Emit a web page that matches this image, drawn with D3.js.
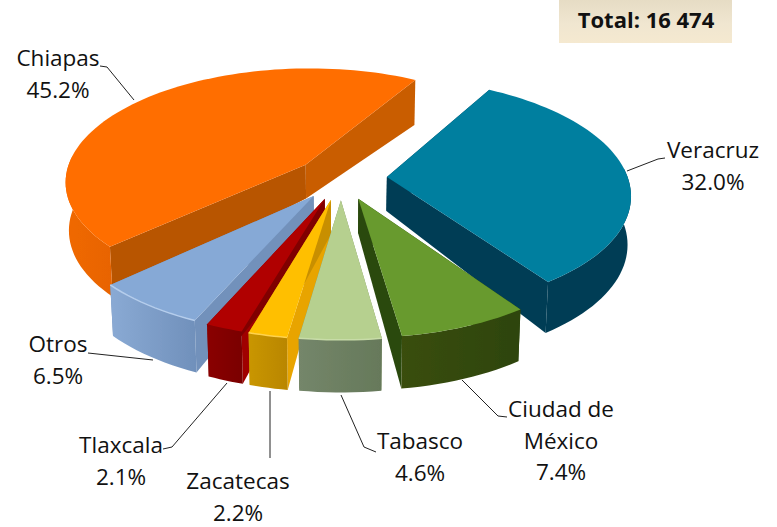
<!DOCTYPE html>
<html><head><meta charset="utf-8">
<script src="https://cdn.jsdelivr.net/npm/d3@7"></script>
<style>html,body{margin:0;padding:0;background:#fff}svg{display:block}text{font-family:"Open Sans",sans-serif;fill:#111}</style>
</head><body><script>
// ---- data ----
const categories = ["Veracruz","Ciudad de México","Tabasco","Zacatecas","Tlaxcala","Otros","Chiapas"];
const shares = [32.0,7.4,4.6,2.2,2.1,6.5,45.2];
const totalLabel = "Total: 16 474";
const labelLines = [["Veracruz","32.0%"],["Ciudad de","México","7.4%"],["Tabasco","4.6%"],["Zacatecas","2.2%"],["Tlaxcala","2.1%"],["Otros","6.5%"],["Chiapas","45.2%"]];
// ---- styles and layout ----
const topColors   = ["#007f9f","#679a2d","#b6d08f","#ffbf00","#b00000","#86a9d6","#ff6e00"];
const startWalls  = ["#003d55","#2c4a10","#7a8f60","#e8a400","#a00000","#7291bb","#b85400"];
const endWalls    = ["#003d55","#2c4a10","#7a8f60","#c88f00","#800000","#7291bb","#c95d00"];
const outerStops  = [["#003d55","#003d55"],["#3a4e10","#2d4409"],["#74866a","#66795a"],["#c99600","#b98600"],["#8a0000","#7a0000"],["#8aaad4","#7090bb"],["#f06800","#e86400"]];
const rimColors   = [null,null,"#c8dca8","#ffd24d",null,"#b5cdec",null];
const drawOrder = [6,0,5,4,3,1,2];
const labelAnchors = [[713,158],[561,417],[420,449],[238,489],[121,453],[58,352],[58,66]];
const leaders = [
 [[665,158],[658,159],[627,171]],
 [[507,417],[498,416],[462,380]],
 [[376,452],[364,447],[341,395]],
 [[270,458],[270,391]],
 [[163,449],[172,447],[227,383]],
 [[88,353],[153,360]],
 [[100,66],[107,67],[134,100]]];
const W=777,H=527;
const cx=341,cy=178,R=241,E=46,persp=0.14,tilt=0.47;
const startDeg=30;

const svg=d3.select("body").append("svg").attr("width",W).attr("height",H);
const defs=svg.append("defs");
defs.append("filter").attr("id","soft").append("feGaussianBlur").attr("stdDeviation",0.5);
const boxG=defs.append("linearGradient").attr("id","box").attr("x1",0).attr("x2",0).attr("y1",0).attr("y2",1);
boxG.append("stop").attr("offset",0).attr("stop-color","#e6dcc4");
boxG.append("stop").attr("offset",0.55).attr("stop-color","#f0e6d0");
boxG.append("stop").attr("offset",1).attr("stop-color","#f5e9d0");

const rad=Math.PI/180;
const pie=d3.pie().sort(null).startAngle(startDeg*rad).endAngle((startDeg+360)*rad);
const arcs=pie(shares);
const line=d3.line();

// project a point of a slice exploded along m, at radial fraction r, angle a
function proj(m,a,r){
  const X=E*Math.sin(m)+R*r*Math.sin(a);
  const Y=-E*Math.cos(m)-R*r*Math.cos(a);
  const w=1/(1-persp*Y/R);
  return {x:cx+X*w,y:cy+tilt*Y*w,w,r};
}
function topPt(m,a,r){const p=proj(m,a,r);return [p.x,p.y];}
function botPt(m,a,r){
  const p=proj(m,a,r);
  const d=(34+14*r)*Math.sqrt(p.w);
  return [p.x+(cx-p.x)*0.012,p.y+d];
}
const pie3=svg.append("g").attr("filter","url(#soft)");
drawOrder.forEach(i=>{
  const d=arcs[i],m=(d.startAngle+d.endAngle)/2;
  const n=Math.max(6,Math.ceil((d.endAngle-d.startAngle)/(2*rad)));
  const as=d3.range(n+1).map(k=>d.startAngle+(d.endAngle-d.startAngle)*k/n);
  const front=as.filter(a=>a>=85*rad&&a<=275*rad);
  const g=pie3.append("g");
  const gid="w"+i;
  const lg=defs.append("linearGradient").attr("id",gid);
  lg.append("stop").attr("offset",0).attr("stop-color",outerStops[i][0]);
  lg.append("stop").attr("offset",1).attr("stop-color",outerStops[i][1]);
  // side walls
  g.append("path").attr("d",line([topPt(m,d.startAngle,0),topPt(m,d.startAngle,1),botPt(m,d.startAngle,1),botPt(m,d.startAngle,0)])+"Z").attr("fill",startWalls[i]);
  g.append("path").attr("d",line([topPt(m,d.endAngle,0),topPt(m,d.endAngle,1),botPt(m,d.endAngle,1),botPt(m,d.endAngle,0)])+"Z").attr("fill",endWalls[i]);
  // outer wall, only where it faces the viewer
  const oPts=front.map(a=>topPt(m,a,1)).concat(front.slice().reverse().map(a=>botPt(m,a,1)));
  g.append("path").attr("d",line(oPts)+"Z").attr("fill",`url(#${gid})`);
  // top face
  const tPts=[topPt(m,m,0)].concat(as.map(a=>topPt(m,a,1)));
  g.append("path").attr("d",line(tPts)+"Z").attr("fill",topColors[i]);
  if(rimColors[i]) g.append("path").attr("d",line(as.map(a=>topPt(m,a,1)))).attr("fill","none").attr("stroke",rimColors[i]).attr("stroke-width",1.5);
});
// leaders
leaders.forEach(l=>svg.append("path").attr("d",line(l)).attr("fill","none").attr("stroke","#222").attr("stroke-width",1));
// labels
labelLines.forEach((ls,i)=>{
  ls.forEach((t,j)=>svg.append("text").attr("x",labelAnchors[i][0]).attr("y",labelAnchors[i][1]+j*31.5)
    .attr("text-anchor","middle").attr("font-size",22.5).text(t));
});
// total box
svg.append("rect").attr("x",559).attr("y",0).attr("width",173).attr("height",43).attr("fill","url(#box)");
svg.append("text").attr("x",646).attr("y",28).attr("text-anchor","middle").attr("font-size",22).attr("font-weight",700).text(totalLabel);
</script></body></html>
